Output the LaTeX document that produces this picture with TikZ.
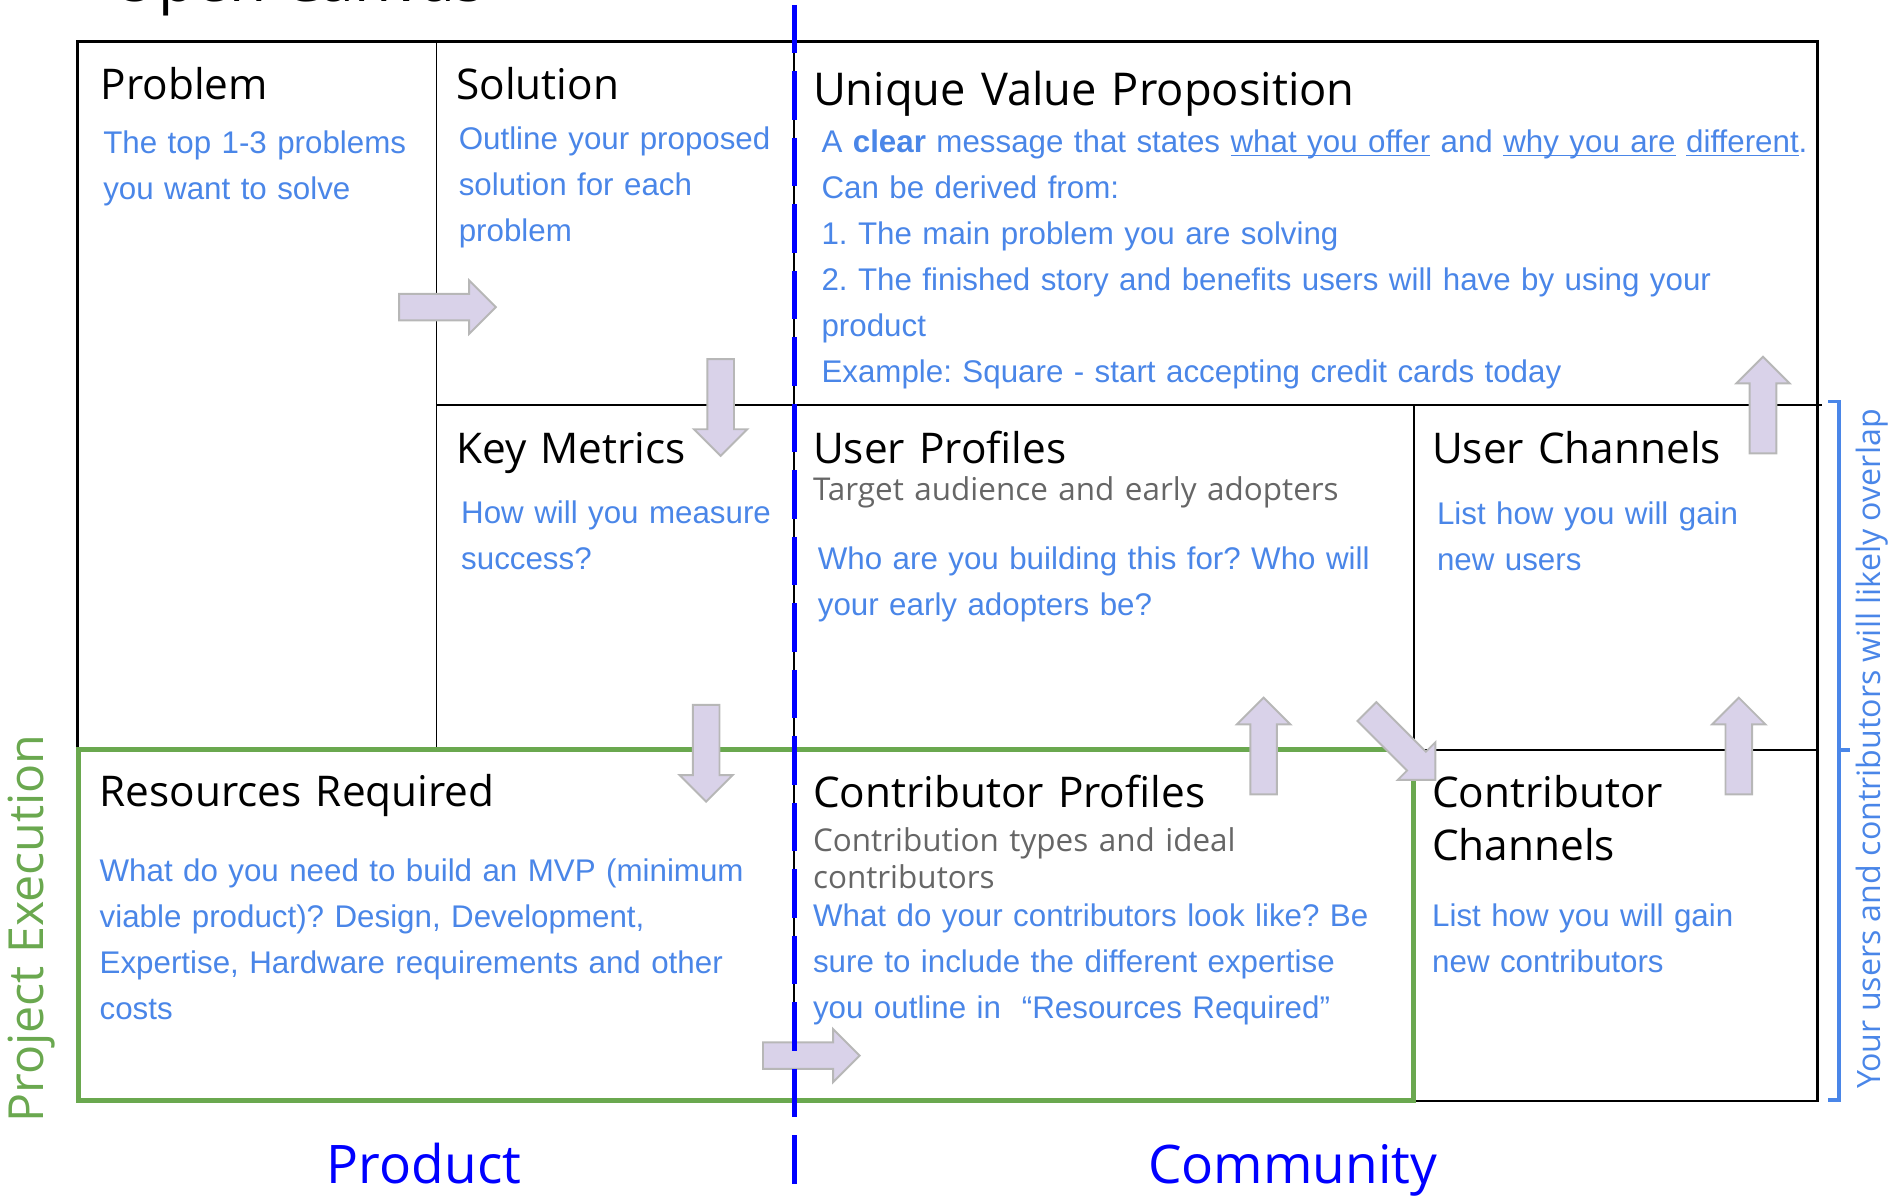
\documentclass[tikz,border=0pt]{standalone}
\usepackage{fontspec}
\setmainfont{Liberation Sans}
\newfontfamily\headfont{Open Sans}
\definecolor{bodyblue}{HTML}{4A86E8}
\definecolor{subgray}{HTML}{666666}
\definecolor{execgreen}{HTML}{6AA84F}
\definecolor{splitblue}{HTML}{0000FF}
\definecolor{arrowfill}{HTML}{D9D2E9}
\definecolor{arrowedge}{HTML}{B7B7B7}
\newcommand{\undr}[1]{\setbox0\hbox{#1}\rlap{\rule[-1.7pt]{\wd0}{0.6pt}}\box0\relax}
\frenchspacing
\tikzset
    { cell head/.style =
        { anchor=base west, inner sep=0, align=left, text width=12cm
        , font=\headfont\fontsize{17.5}{21.75}\selectfont
        }
    , cell text/.style =
        { anchor=base west, inner sep=0, align=left, text width=16cm
        , text=bodyblue, font=\fontsize{12.95}{19}\selectfont
        }
    , cell sub/.style =
        { anchor=base west, inner sep=0, align=left, text width=12cm
        , text=subgray, font=\headfont\fontsize{13}{15.5}\selectfont
        }
    , side label/.style =
        { anchor=base west, inner sep=0, font=\headfont\fontsize{22}{26}\selectfont }
    , frame line/.style = {line width=1.1pt}
    , grid line/.style = {line width=0.8pt}
    , block arrow/.style =
        { fill=arrowfill, draw=arrowedge, line width=0.8pt, line join=miter }
    , split line/.style =
        { draw=splitblue, line width=2.3pt, dash pattern=on 20pt off 7.5pt }
    }
\begin{document}
\frenchspacing
\begin{tikzpicture}[x=0.5pt, y=-0.5pt]

    \useasboundingbox (0,0) rectangle (1568,989);

    \draw[frame line] (64,34.5) rectangle (1503,910.5);
    \draw[grid line] (361,34.5) -- (361,620);
    \draw[grid line] (657,34.5) -- (657,910.5);
    \draw[grid line] (361,335) -- (1507,335);
    \draw[grid line] (1169,335) -- (1169,910);
    \draw[grid line] (1169,620) -- (1503,620);
    \draw[execgreen, line width=2.2pt] (65,620) rectangle (1169,910);

    \node[side label, font=\headfont\fontsize{25}{30}\selectfont] (title) at (92,1) {Open Canvas};

    \node[cell head] (problem) at (83,82) {Problem};
    \node[cell text] (problem text) at (85,127) {The top 1-3 problems\\you want to solve};
    \node[cell head] (solution) at (377,82) {Solution};
    \node[cell text] (solution text) at (379,124) {Outline your proposed\\solution for each\\problem};
    \node[cell head, font=\headfont\fontsize{18.7}{22}\selectfont] (uvp) at (672,87) {Unique Value Proposition};
    \node[cell text] (uvp text) at (679,126)
        {A \textbf{clear} message that states \undr{what you offer} and \undr{why you are} \undr{different}.\\
         Can be derived from:\\
         1. The main problem you are solving\\
         2. The finished story and benefits users will have by using your\\
         product\\
         Example: Square - start accepting credit cards today};

    \node[cell head] (metrics) at (377,383) {Key Metrics};
    \node[cell text] (metrics text) at (381,433) {How will you measure\\success?};
    \node[cell head] (user profiles) at (672,383) {User Profiles};
    \node[cell sub] (user profiles sub) at (672,414) {Target audience and early adopters};
    \node[cell text] (user profiles text) at (676,471) {Who are you building this for? Who will\\your early adopters be?};
    \node[cell head] (user channels) at (1184,383) {User Channels};
    \node[cell text] (user channels text) at (1188,434) {List how you will gain\\new users};

    \node[cell head] (resources) at (82,667) {Resources Required};
    \node[cell text] (resources text) at (82,729)
        {What do you need to build an MVP (minimum\\viable product)? Design, Development,\\Expertise, Hardware requirements and other\\costs};
    \node[cell head] (contrib profiles) at (672,668) {Contributor Profiles};
    \node[cell sub] (contrib profiles sub) at (672,704) {Contribution types and ideal\\contributors};
    \node[cell text] (contrib profiles text) at (672,766)
        {What do your contributors look like? Be\\sure to include the different expertise\\you outline in\ \ “Resources Required”};
    \node[cell head] (contrib channels) at (1184,668) {Contributor\\Channels};
    \node[cell text] (contrib channels text) at (1184,766) {List how you will gain\\new contributors};

    \node[side label, rotate=90, text=execgreen, font=\headfont\fontsize{20}{24}\selectfont] (execution) at (36,929) {Project Execution};
    \node[side label, rotate=90, text=bodyblue, font=\headfont\fontsize{13.3}{16}\selectfont] (overlap) at (1555,901) {Your users and contributors will likely overlap};
    \node[side label, text=splitblue] (product) at (270,979) {Product};
    \node[side label, text=splitblue] (community) at (949,979) {Community};

    \foreach \x/\y/\r in {410/254/0, 596/377/-90, 1458/295/90, 584/663/-90,
                          1045/577/90, 1187/645/-45, 1438/577/90, 711/873/0}
        \draw[block arrow, shift={(\x,\y)}, rotate=\r]
            (0,0) -- (-22,-22) -- (-22,-11) -- (-80,-11) -- (-80,11) -- (-22,11) -- (-22,22) -- cycle;

    \draw[split line] (657,4) -- (657,989);

    \draw[bodyblue, line width=1.6pt] (1512,332) -- (1521,332) -- (1521,910) -- (1512,910);
    \draw[bodyblue, line width=1.6pt] (1521,620) -- (1530,620);

\end{tikzpicture}
\end{document}
